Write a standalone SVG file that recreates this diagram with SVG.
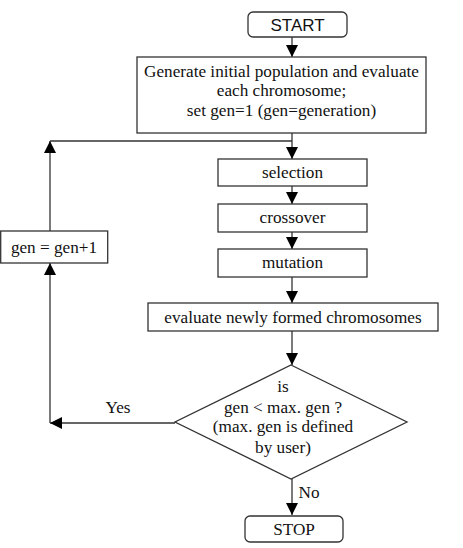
<svg xmlns="http://www.w3.org/2000/svg" width="463" height="548" viewBox="0 0 463 548">
<defs>
<style>
.box{fill:#fff;stroke:#333;stroke-width:1.3}
.ln{fill:none;stroke:#333;stroke-width:1.3}
.t{font-family:"Liberation Serif","Times New Roman",serif;font-size:17.2px;fill:#111;text-anchor:middle}
.s{font-family:"Liberation Sans",Arial,sans-serif;font-size:17px;fill:#111;text-anchor:middle}
</style>
<marker id="ah" markerWidth="12" markerHeight="12" viewBox="0 0 12 12" refX="12" refY="6" orient="auto" markerUnits="userSpaceOnUse">
<path d="M0,0 L12,6 L0,12 Z" fill="#000"/>
</marker>
</defs>
<g id="connectors">
<line class="ln" x1="292" y1="37" x2="292" y2="57" marker-end="url(#ah)"/>
<line class="ln" x1="292" y1="133" x2="292" y2="159" marker-end="url(#ah)"/>
<line class="ln" x1="292" y1="186" x2="292" y2="204" marker-end="url(#ah)"/>
<line class="ln" x1="292" y1="232" x2="292" y2="249" marker-end="url(#ah)"/>
<line class="ln" x1="292" y1="277" x2="292" y2="303" marker-end="url(#ah)"/>
<line class="ln" x1="292" y1="331" x2="292" y2="365" marker-end="url(#ah)"/>
<line class="ln" x1="292" y1="479" x2="292" y2="515" marker-end="url(#ah)"/>
<line class="ln" x1="175" y1="423" x2="50" y2="423" marker-end="url(#ah)"/>
<line class="ln" x1="50" y1="423" x2="50" y2="263" marker-end="url(#ah)"/>
<line class="ln" x1="50" y1="231" x2="50" y2="141" marker-end="url(#ah)"/>
<line class="ln" x1="50" y1="141" x2="292" y2="141"/>
<text class="t" x="118" y="413">Yes</text>
<text class="t" x="309" y="498">No</text>
</g>
<g id="start">
<rect class="box" x="248" y="12" width="99" height="25" rx="5"/>
<text class="s" x="297.5" y="31">START</text>
</g>
<g id="init">
<rect class="box" x="137" y="57" width="289" height="76"/>
<text class="t" x="281.5" y="77">Generate initial population and evaluate</text>
<text class="t" x="281.5" y="96">each chromosome;</text>
<text class="t" x="281.5" y="116">set gen=1 (gen=generation)</text>
</g>
<g id="selection">
<rect class="box" x="218" y="159" width="149" height="27"/>
<text class="t" x="292.5" y="178">selection</text>
</g>
<g id="crossover">
<rect class="box" x="218" y="204" width="149" height="28"/>
<text class="t" x="292.5" y="223">crossover</text>
</g>
<g id="mutation">
<rect class="box" x="218" y="249" width="149" height="28"/>
<text class="t" x="292.5" y="268">mutation</text>
</g>
<g id="evaluate">
<rect class="box" x="148" y="303" width="290" height="28"/>
<text class="t" x="293" y="323">evaluate newly formed chromosomes</text>
</g>
<g id="decision">
<polygon class="box" points="291,365 407,422 291,479 175,422"/>
<text class="t" x="283" y="392">is</text>
<text class="t" x="283" y="413">gen &lt; max. gen ?</text>
<text class="t" x="283" y="432">(max. gen is defined</text>
<text class="t" x="283" y="453">by user)</text>
</g>
<g id="increment">
<rect class="box" x="0.7" y="231" width="107" height="32"/>
<text class="t" x="54" y="253">gen = gen+1</text>
</g>
<g id="stop">
<rect class="box" x="245" y="516" width="98" height="26" rx="5"/>
<text class="t" x="294" y="535">STOP</text>
</g>
</svg>
